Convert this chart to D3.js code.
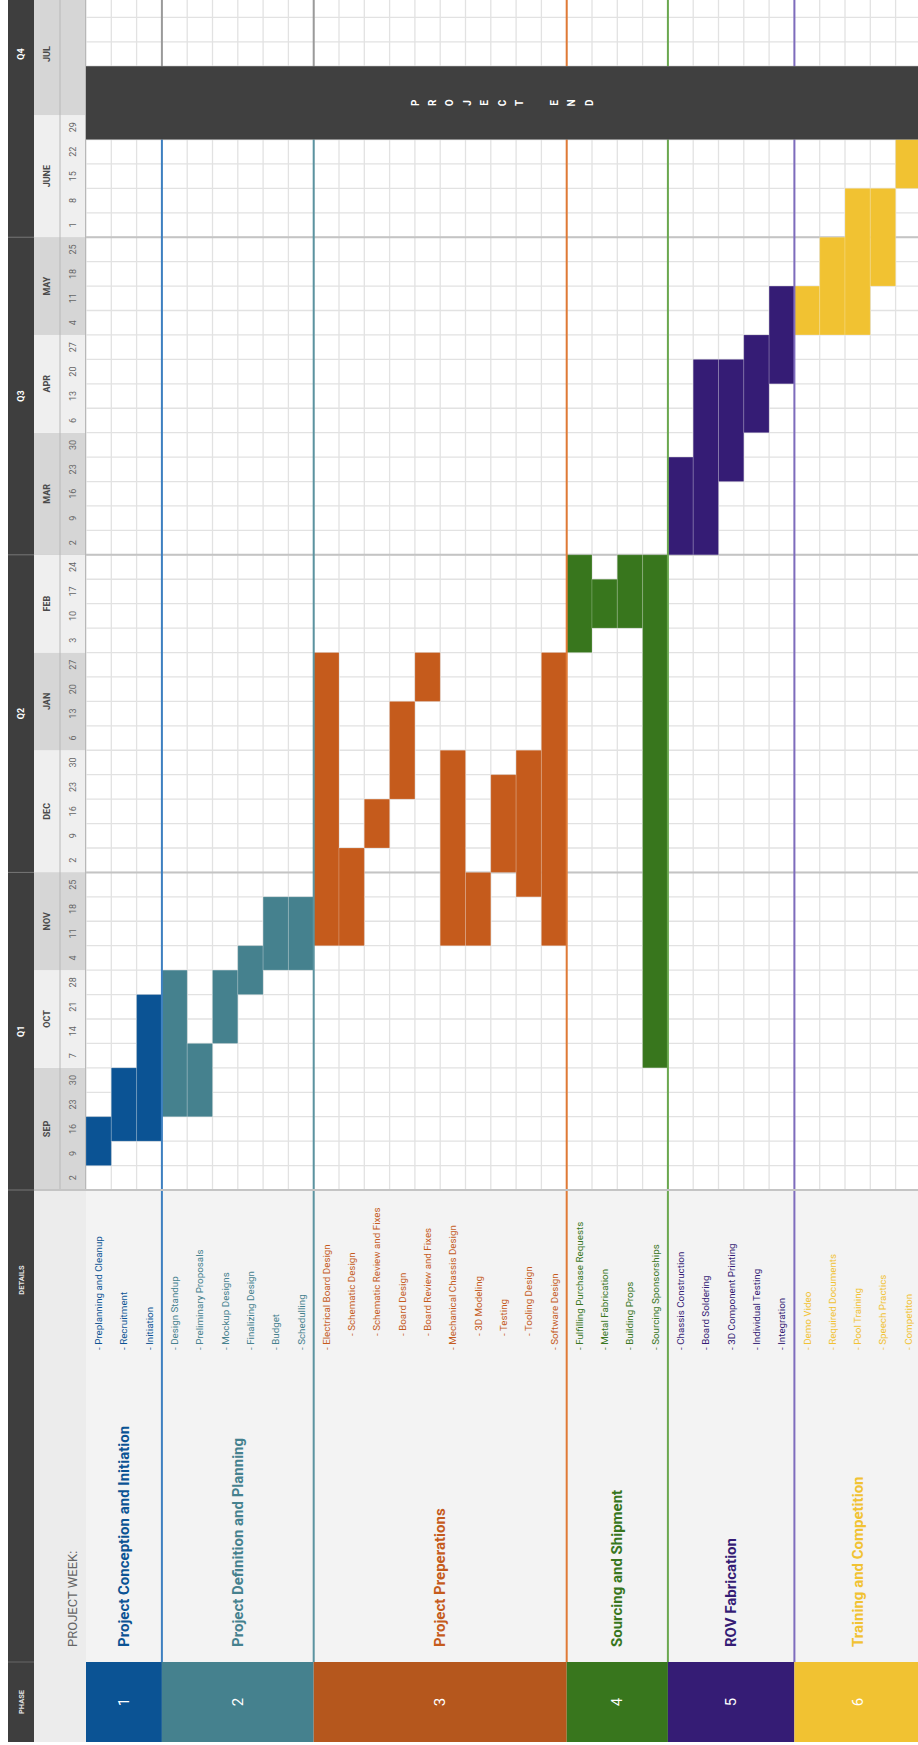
<!DOCTYPE html>
<html>
<head>
<meta charset="utf-8">
<script src="https://cdn.jsdelivr.net/npm/d3@7"></script>
<style>
  body { margin: 0; background: #fff; }
  svg { display: block; font-family: Roboto, "Liberation Sans", sans-serif; }
</style>
</head>
<body>
<div class="chart-container"></div>
<script>
"use strict";

// Calendar: months and the week-start days shown under each month
const months = ["SEP", "OCT", "NOV", "DEC", "JAN", "FEB", "MAR", "APR", "MAY", "JUNE", "JUL", "AUG"];
const monthDays = [
  ["2", "9", "16", "23", "30"],
  ["7", "14", "21", "28"],
  ["4", "11", "18", "25"],
  ["2", "9", "16", "23", "30"],
  ["6", "13", "20", "27"],
  ["3", "10", "17", "24"],
  ["2", "9", "16", "23", "30"],
  ["6", "13", "20", "27"],
  ["4", "11", "18", "25"],
  ["1", "8", "15", "22", "29"],
  ["", "", "", "", ""],
  ["", "", "", "", ""]
];
const quarters = ["Q1", "Q2", "Q3", "Q4"];
const quarterMonths = [
  ["SEP", "OCT", "NOV"],
  ["DEC", "JAN", "FEB"],
  ["MAR", "APR", "MAY"],
  ["JUNE", "JUL", "AUG"]
];

// Phases
const phaseNumbers = ["1", "2", "3", "4", "5", "6"];
const phaseNames = [
  "Project Conception and Initiation",
  "Project Definition and Planning",
  "Project Preperations",
  "Sourcing and Shipment",
  "ROV Fabrication",
  "Training and Competition"
];

// Tasks (one column each), their phase, outline level and first / last week
const taskNames = [
  "- Preplanning and Cleanup", "- Recruitment", "- Initiation",
  "- Design Standup", "- Preliminary Proposals", "- Mockup Designs", "- Finalizing Design", "- Budget", "- Schedulling",
  "- Electrical Board Design", "- Schematic Design", "- Schematic Review and Fixes", "- Board Design", "- Board Review and Fixes",
  "- Mechanical Chassis Design", "- 3D Modeling", "- Testing", "- Tooling Design", "- Software Design",
  "- Fulfilling Purchase Requests", "- Metal Fabrication", "- Building Props", "- Sourcing Sponsorships",
  "- Chassis Construction", "- Board Soldering", "- 3D Component Printing", "- Individual Testing", "- Integration",
  "- Demo Video", "- Required Documents", "- Pool Training", "- Speech Practics", "- Competiton"
];
const taskPhase = [
  0, 0, 0,
  1, 1, 1, 1, 1, 1,
  2, 2, 2, 2, 2, 2, 2, 2, 2, 2,
  3, 3, 3, 3,
  4, 4, 4, 4, 4,
  5, 5, 5, 5, 5
];
const taskLevel = [
  0, 0, 0,
  0, 0, 0, 0, 0, 0,
  0, 1, 1, 1, 1, 0, 1, 1, 1, 0,
  0, 0, 0, 0,
  0, 0, 0, 0, 0,
  0, 0, 0, 0, 0
];
const taskStart = [
  "SEP 9", "SEP 16", "SEP 16",
  "SEP 23", "SEP 23", "OCT 14", "OCT 28", "NOV 4", "NOV 4",
  "NOV 11", "NOV 11", "DEC 9", "DEC 23", "JAN 20", "NOV 11", "NOV 11", "DEC 2", "NOV 25", "NOV 11",
  "FEB 3", "FEB 10", "FEB 10", "OCT 7",
  "MAR 2", "MAR 2", "MAR 23", "APR 6", "APR 20",
  "MAY 4", "MAY 4", "MAY 4", "MAY 18", "JUNE 15"
];
const taskEnd = [
  "SEP 16", "SEP 30", "OCT 21",
  "OCT 28", "OCT 7", "OCT 28", "NOV 4", "NOV 18", "NOV 18",
  "JAN 27", "DEC 2", "DEC 16", "JAN 13", "JAN 27", "DEC 30", "NOV 25", "DEC 23", "DEC 30", "JAN 27",
  "FEB 24", "FEB 17", "FEB 24", "FEB 24",
  "MAR 23", "APR 20", "APR 20", "APR 27", "MAY 11",
  "MAY 11", "MAY 25", "JUNE 8", "JUNE 8", "JUNE 22"
];

const projectEndLabel = "PROJECT END";
const projectEndWeeks = ["JUNE 29", "JUL #2"];

// Styles
const barColors = ["#0b5394", "#45818e", "#c55b1c", "#38761d", "#351c75", "#f1c232"];
const boxColors = ["#0b5394", "#45818e", "#b5571d", "#38761d", "#351c75", "#f1c232"];
const lineColors = ["#3d7fc0", "#5b93a0", "#e07a36", "#6aa84f", "#7e6cbd", "#f1c232"];
const lineColorsAboveEnd = ["#9a9a9a", "#9a9a9a", "#e07a36", "#6aa84f", "#7e6cbd", "#f1c232"];
const monthFills = ["#d6d6d6", "#efefef"];
const darkFill = "#3e3e3e";

drawChart();

function drawChart() {
  const width = 918;
  const height = 1745;
  const gridLeft = 86;
  const gridBottom = 1190;
  const colW = 25.3;
  const rowH = 24.43;
  const detailBottom = 1662;
  const boxBottom = 1742;

  const svg = d3.select(".chart-container")
    .append("svg")
      .attr("width", width)
      .attr("height", height);

  // Week rows
  const weeks = months.flatMap((m, mi) => monthDays[mi].map((d, i) => ({
    key: d ? `${m} ${d}` : `${m} #${i + 1}`,
    month: m,
    monthIndex: mi,
    day: d
  })));

  const yScale = d3.scaleBand()
    .domain(weeks.map(w => w.key))
    .range([gridBottom, gridBottom - weeks.length * rowH]);

  const xScale = d3.scaleBand()
    .domain(d3.range(taskNames.length))
    .range([gridLeft, gridLeft + taskNames.length * colW]);

  const bw = yScale.bandwidth();
  const cw = xScale.bandwidth();

  const monthTop = m => yScale(weeks.filter(w => w.month === m).slice(-1)[0].key);
  const monthBottom = m => yScale(weeks.find(w => w.month === m).key) + bw;

  const phaseX0 = p => xScale(taskPhase.indexOf(p));
  const phaseX1 = p => xScale(taskPhase.lastIndexOf(p)) + cw;

  const rotText = (g, x, y, text) => g.append("text")
    .attr("transform", `translate(${x}, ${y}) rotate(-90)`)
    .text(text);

  // Grid background and cell lines
  svg.append("rect")
    .attr("x", gridLeft).attr("y", 0)
    .attr("width", width - gridLeft).attr("height", gridBottom)
    .attr("fill", "#ffffff");

  const grid = svg.append("g").attr("class", "grid");
  grid.selectAll(".row-line")
    .data(weeks)
    .join("line")
      .attr("x1", gridLeft).attr("x2", width)
      .attr("y1", d => yScale(d.key)).attr("y2", d => yScale(d.key))
      .attr("stroke", "#e2e2e2").attr("stroke-width", 1.3);
  grid.selectAll(".col-line")
    .data(d3.range(taskNames.length + 1))
    .join("line")
      .attr("x1", d => gridLeft + d * cw).attr("x2", d => gridLeft + d * cw)
      .attr("y1", 0).attr("y2", gridBottom)
      .attr("stroke", "#e2e2e2").attr("stroke-width", 1.3);

  // Quarter separators
  svg.selectAll(".quarter-line")
    .data(quarters)
    .join("line")
      .attr("x1", 34).attr("x2", width)
      .attr("y1", (d, i) => monthBottom(quarterMonths[i][0]))
      .attr("y2", (d, i) => monthBottom(quarterMonths[i][0]))
      .attr("stroke", "#c4c4c4").attr("stroke-width", 2);

  // Task bars
  svg.append("g")
    .selectAll("rect")
    .data(taskNames)
    .join("rect")
      .attr("x", (d, i) => xScale(i))
      .attr("y", (d, i) => yScale(taskEnd[i]))
      .attr("width", cw)
      .attr("height", (d, i) => yScale(taskStart[i]) + bw - yScale(taskEnd[i]))
      .attr("fill", (d, i) => barColors[taskPhase[i]])
      .attr("stroke", "rgba(255,255,255,0.18)")
      .attr("stroke-width", 1);

  // Phase separator lines
  const endTop = yScale(projectEndWeeks[1]);
  const endBottom = yScale(projectEndWeeks[0]) + bw;
  phaseNames.forEach((name, p) => {
    const x = phaseX1(p);
    svg.append("line")
      .attr("x1", x).attr("x2", x).attr("y1", endBottom).attr("y2", detailBottom)
      .attr("stroke", lineColors[p]).attr("stroke-width", 2);
    svg.append("line")
      .attr("x1", x).attr("x2", x).attr("y1", 0).attr("y2", endTop)
      .attr("stroke", lineColorsAboveEnd[p]).attr("stroke-width", 2);
  });

  // Project end block
  svg.append("rect")
    .attr("x", gridLeft).attr("y", endTop)
    .attr("width", width - gridLeft).attr("height", endBottom - endTop)
    .attr("fill", "#404040");
  const endLetters = projectEndLabel.split("");
  const letterStep = 17.4;
  const endCenter = (gridLeft + width) / 2;
  svg.append("g")
    .attr("fill", "#ffffff")
    .attr("font-size", 10)
    .attr("font-weight", "bold")
    .attr("text-anchor", "middle")
    .attr("dominant-baseline", "central")
    .selectAll("text")
    .data(endLetters)
    .join("text")
      .attr("transform", (d, i) =>
        `translate(${endCenter + (i - (endLetters.length - 1) / 2) * letterStep}, ${(endTop + endBottom) / 2}) rotate(-90)`)
      .text(d => d);

  // Left header: dark band
  svg.append("rect")
    .attr("x", 8).attr("y", 0).attr("width", 26).attr("height", boxBottom)
    .attr("fill", darkFill);

  const header = svg.append("g")
    .attr("fill", "#ffffff")
    .attr("font-weight", "bold")
    .attr("text-anchor", "middle")
    .attr("dominant-baseline", "central");

  quarters.forEach((q, i) => {
    const top = monthTop(quarterMonths[i][quarterMonths[i].length - 1]);
    const bottom = monthBottom(quarterMonths[i][0]);
    rotText(header, 21, (top + bottom) / 2, q).attr("font-size", 9);
    svg.append("line")
      .attr("x1", 8).attr("x2", 34).attr("y1", bottom).attr("y2", bottom)
      .attr("stroke", "#777").attr("stroke-width", 1);
  });
  svg.append("line")
    .attr("x1", 8).attr("x2", 34).attr("y1", detailBottom).attr("y2", detailBottom)
    .attr("stroke", "#666").attr("stroke-width", 1);
  rotText(header, 21, 1280, "DETAILS").attr("font-size", 7.5).attr("fill", "#e6e6e6");
  rotText(header, 21, (detailBottom + boxBottom) / 2, "PHASE").attr("font-size", 7.5).attr("fill", "#e6e6e6");

  // Month band and week numbers
  months.forEach((m, mi) => {
    const top = monthTop(m);
    const bottom = monthBottom(m);
    svg.append("rect")
      .attr("x", 34).attr("y", top).attr("width", 52).attr("height", bottom - top)
      .attr("fill", monthFills[mi % 2]);
    if ((top + bottom) / 2 > 10) {
      svg.append("text")
        .attr("transform", `translate(47, ${(top + bottom) / 2}) rotate(-90)`)
        .attr("text-anchor", "middle")
        .attr("dominant-baseline", "central")
        .attr("font-size", 9)
        .attr("font-weight", "bold")
        .attr("fill", "#4a4a4a")
        .text(m);
    }
  });
  svg.append("g")
    .attr("font-size", 9)
    .attr("fill", "#666")
    .attr("text-anchor", "middle")
    .attr("dominant-baseline", "central")
    .selectAll("text")
    .data(weeks.filter(w => w.day))
    .join("text")
      .attr("transform", d => `translate(72.5, ${yScale(d.key) + bw / 2}) rotate(-90)`)
      .text(d => d.day);
  [60, 85.5].forEach(x => svg.append("line")
    .attr("x1", x).attr("x2", x).attr("y1", 0).attr("y2", gridBottom)
    .attr("stroke", "#b8b8b8").attr("stroke-width", 1));

  // Lower left band with "PROJECT WEEK:"
  svg.append("rect")
    .attr("x", 34).attr("y", gridBottom).attr("width", 52).attr("height", boxBottom - gridBottom)
    .attr("fill", "#ececec");
  rotText(svg, 72.5, 1647, "PROJECT WEEK:")
    .attr("font-size", 13)
    .attr("fill", "#666")
    .attr("dominant-baseline", "central");

  // Details area
  svg.append("rect")
    .attr("x", gridLeft).attr("y", gridBottom)
    .attr("width", width - gridLeft).attr("height", detailBottom - gridBottom)
    .attr("fill", "#f3f3f3");
  svg.append("line")
    .attr("x1", 34).attr("x2", width).attr("y1", gridBottom).attr("y2", gridBottom)
    .attr("stroke", "#c4c4c4").attr("stroke-width", 2);
  phaseNames.forEach((name, p) => {
    const x = phaseX1(p);
    svg.append("line")
      .attr("x1", x).attr("x2", x).attr("y1", gridBottom + 1).attr("y2", detailBottom)
      .attr("stroke", lineColors[p]).attr("stroke-width", 2);
  });

  // Phase titles
  svg.append("g")
    .attr("font-size", 15)
    .attr("font-weight", "bold")
    .attr("dominant-baseline", "central")
    .selectAll("text")
    .data(phaseNames)
    .join("text")
      .attr("transform", (d, p) => `translate(${(phaseX0(p) + phaseX1(p)) / 2}, 1647) rotate(-90)`)
      .attr("fill", (d, p) => barColors[p])
      .text(d => d);

  // Task labels
  svg.append("g")
    .attr("font-size", 9.8)
    .attr("dominant-baseline", "central")
    .selectAll("text")
    .data(taskNames)
    .join("text")
      .attr("transform", (d, i) => `translate(${xScale(i) + cw / 2}, ${1350 - taskLevel[i] * 14}) rotate(-90)`)
      .attr("fill", (d, i) => barColors[taskPhase[i]])
      .text(d => d);

  // Phase number boxes
  const boxes = svg.append("g");
  boxes.selectAll("rect")
    .data(phaseNumbers)
    .join("rect")
      .attr("x", (d, p) => phaseX0(p))
      .attr("y", detailBottom)
      .attr("width", (d, p) => phaseX1(p) - phaseX0(p))
      .attr("height", boxBottom - detailBottom)
      .attr("fill", (d, p) => boxColors[p]);
  boxes.selectAll("text")
    .data(phaseNumbers)
    .join("text")
      .attr("transform", (d, p) => `translate(${(phaseX0(p) + phaseX1(p)) / 2}, ${(detailBottom + boxBottom) / 2}) rotate(-90)`)
      .attr("text-anchor", "middle")
      .attr("dominant-baseline", "central")
      .attr("font-size", 15)
      .attr("fill", "#ffffff")
      .text(d => d);
}
</script>
</body>
</html>
